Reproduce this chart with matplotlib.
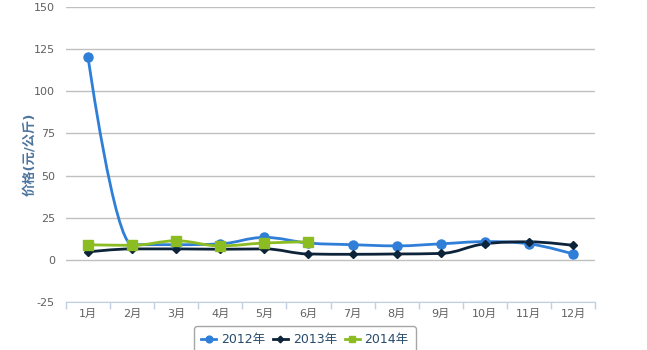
import numpy as np
import matplotlib
matplotlib.use("Agg")
import matplotlib.pyplot as plt
from matplotlib.path import Path
from matplotlib.patches import PathPatch
from matplotlib.lines import Line2D

plt.rcParams['font.family'] = ['DejaVu Sans', 'Noto Sans CJK SC']
plt.rcParams['axes.unicode_minus'] = False

months = ['1月', '2月', '3月', '4月', '5月', '6月', '7月', '8月', '9月', '10月', '11月', '12月']
price_2012 = [120.3, 9.0, 9.0, 9.5, 13.3, 10.0, 9.0, 8.3, 9.5, 10.8, 9.5, 3.5]
price_2013 = [4.7, 6.5, 6.5, 6.3, 6.5, 3.5, 3.3, 3.5, 3.8, 9.5, 10.7, 8.6]
price_2014 = [9.0, 8.6, 11.3, 8.3, 10.0, 10.7]

series = [
    ('2012年', price_2012, '#2f7ed8', 'o', 6.5),
    ('2013年', price_2013, '#0d233a', 'D', 4.5),
    ('2014年', price_2014, '#8bbc21', 's', 6.5),
]


def spline_path(xs, ys, smoothing=1.5):
    # Highcharts-style spline control points
    denom = smoothing + 1
    n = len(xs)
    verts = [(xs[0], ys[0])]
    codes = [Path.MOVETO]
    ctrl = []
    for i in range(n):
        if i == 0 or i == n - 1:
            ctrl.append(((xs[i], ys[i]), (xs[i], ys[i])))
            continue
        px, py = xs[i], ys[i]
        lx, ly = xs[i - 1], ys[i - 1]
        nx, ny = xs[i + 1], ys[i + 1]
        lcx = (smoothing * px + lx) / denom
        lcy = (smoothing * py + ly) / denom
        rcx = (smoothing * px + nx) / denom
        rcy = (smoothing * py + ny) / denom
        corr = ((rcy - lcy) * (rcx - px)) / (rcx - lcx) + py - rcy
        lcy += corr
        rcy += corr
        if lcy > ly and lcy > py:
            lcy = max(ly, py)
            rcy = 2 * py - lcy
        elif lcy < ly and lcy < py:
            lcy = min(ly, py)
            rcy = 2 * py - lcy
        if rcy > ny and rcy > py:
            rcy = max(ny, py)
            lcy = 2 * py - rcy
        elif rcy < ny and rcy < py:
            rcy = min(ny, py)
            lcy = 2 * py - rcy
        ctrl.append(((lcx, lcy), (rcx, rcy)))
    for i in range(1, n):
        verts += [ctrl[i - 1][1], ctrl[i][0], (xs[i], ys[i])]
        codes += [Path.CURVE4] * 3
    return Path(verts, codes)


fig = plt.figure(figsize=(6.47, 3.5), dpi=100)
ax = fig.add_axes([66 / 647, 1 - 302 / 350, 529 / 647, 295 / 350])

for name, vals, color, marker, ms in series:
    x = np.arange(len(vals))
    ax.add_patch(PathPatch(spline_path(x, vals), facecolor='none', edgecolor=color, lw=2, zorder=3))
    ax.plot(x, vals, linestyle='none', marker=marker, color=color, markersize=ms, zorder=4)

ax.set_xlim(-0.5, 11.5)
ax.set_ylim(-25, 150)
ax.set_yticks(np.arange(-25, 151, 25))
ax.yaxis.grid(True, color='#c0c0c0', lw=1)
ax.set_axisbelow(True)
ax.set_xticks(np.arange(12))
ax.set_xticklabels(months)
ax.set_xticks(np.arange(-0.5, 12, 1), minor=True)
ax.tick_params(axis='x', which='major', length=0, pad=5, labelsize=8, labelcolor='#606060')
ax.tick_params(axis='x', which='minor', length=5, color='#c0d0e0', width=1)
ax.tick_params(axis='y', length=0, pad=8, labelsize=8, labelcolor='#606060')
for s in ['top', 'right', 'left']:
    ax.spines[s].set_visible(False)
ax.spines['bottom'].set_color('#c0d0e0')
ax.set_ylabel('价格(元/公斤)', fontsize=9.5, fontweight='bold', color='#4d759e', labelpad=-2)

handles = [Line2D([0], [0], color=c, lw=2, marker=m, markersize=ms * 0.75) for _, _, c, m, ms in series]
leg = fig.legend(handles, [s[0] for s in series], loc='upper center', bbox_to_anchor=(305 / 647, 1 - 326 / 350),
                 ncol=3, frameon=True, fancybox=True, fontsize=9, handlelength=1.2, handletextpad=0.4,
                 columnspacing=0.6, borderaxespad=0, labelcolor='#274b6d', borderpad=0.55)
leg.get_frame().set_edgecolor('#909090')
leg.get_frame().set_linewidth(1)

fig.savefig('out.png', dpi=100)
